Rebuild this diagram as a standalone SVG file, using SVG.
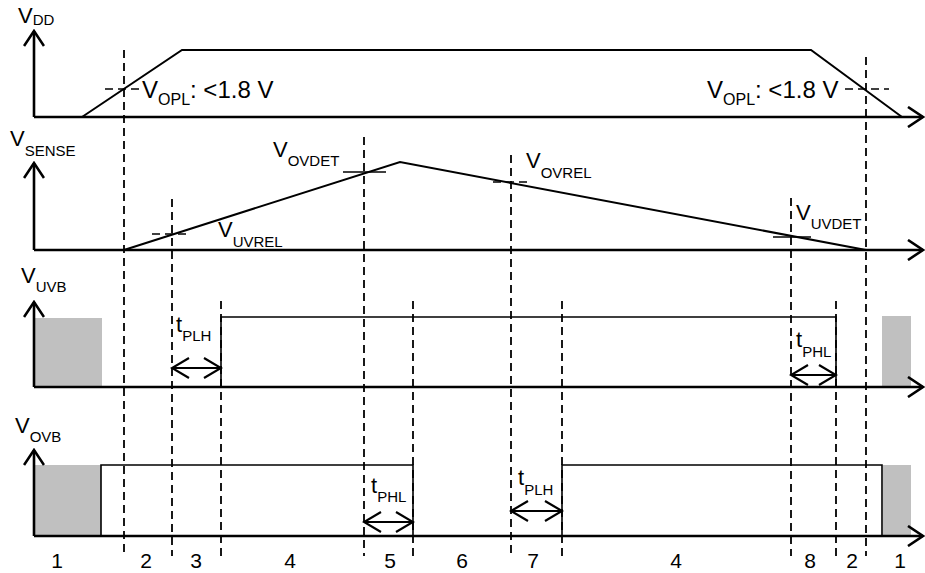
<svg xmlns="http://www.w3.org/2000/svg" width="925" height="573" viewBox="0 0 925 573">
<style>
text{font-family:"Liberation Sans",Arial,sans-serif;fill:#000}
.v{font-size:22px}
.s{font-size:15px}
.num{font-size:21px;text-anchor:middle}
.axis{fill:none;stroke:#000;stroke-width:2.6}
.wave{fill:none;stroke:#000;stroke-width:2}
.thin{fill:none;stroke:#000;stroke-width:1.6}
.dash{fill:none;stroke:#000;stroke-width:1.8;stroke-dasharray:8 5}
.tick{fill:none;stroke:#000;stroke-width:1.6}
.dtick{fill:none;stroke:#000;stroke-width:1.6;stroke-dasharray:8 5}
.gray{fill:#c0c0c0}
.dbl{fill:none;stroke:#000;stroke-width:2.2;marker-start:url(#dh);marker-end:url(#dh)}
</style>
<defs>
<marker id="ah" viewBox="0 0 18 22" refX="16" refY="11" markerWidth="18" markerHeight="22" markerUnits="userSpaceOnUse" orient="auto"><path d="M1,1 L16,11 L1,21" fill="none" stroke="#000" stroke-width="2.6"/></marker>
<marker id="dh" viewBox="0 0 20 22" refX="18" refY="11" markerWidth="20" markerHeight="22" markerUnits="userSpaceOnUse" orient="auto-start-reverse"><path d="M1,1 L18,11 L1,21" fill="none" stroke="#000" stroke-width="2.2"/></marker>
</defs>
<rect width="925" height="573" fill="#fff"/>

<g id="phases">
<line class="dash" x1="124" y1="50" x2="124" y2="554"/>
<line class="dash" x1="172" y1="199" x2="172" y2="556"/>
<line class="dash" x1="221" y1="301" x2="221" y2="558"/>
<line class="dash" x1="364" y1="137" x2="364" y2="556"/>
<line class="dash" x1="413" y1="301" x2="413" y2="556"/>
<line class="dash" x1="511" y1="155" x2="511" y2="558"/>
<line class="dash" x1="562" y1="301" x2="562" y2="556"/>
<line class="dash" x1="791" y1="198" x2="791" y2="556"/>
<line class="dash" x1="836" y1="301" x2="836" y2="558"/>
<line class="dash" x1="866" y1="57" x2="866" y2="556"/>
</g>

<g id="vdd">
<line class="axis" x1="34" y1="117" x2="34" y2="31" marker-end="url(#ah)"/>
<line class="axis" x1="34" y1="117" x2="923" y2="117" marker-end="url(#ah)"/>
<polyline class="wave" points="82,117 182,50 811,50 902,117"/>
<line class="dtick" x1="105" y1="89" x2="140" y2="89"/>
<line class="dtick" x1="845" y1="89" x2="889" y2="89"/>
<text class="v" x="18" y="23">V<tspan class="s" dy="2">DD</tspan></text>
<text x="142" y="98" font-size="24">V<tspan font-size="16" dy="7">OPL</tspan><tspan dy="-7">: &lt;1.8 V</tspan></text>
<text x="707" y="98" font-size="24">V<tspan font-size="16" dy="7">OPL</tspan><tspan dy="-7">: &lt;1.8 V</tspan></text>
</g>

<g id="vsense">
<line class="axis" x1="34" y1="250" x2="34" y2="163" marker-end="url(#ah)"/>
<line class="axis" x1="34" y1="250" x2="923" y2="250" marker-end="url(#ah)"/>
<polyline class="wave" points="124,250 400,162 866,250"/>
<line class="tick" x1="343" y1="172" x2="386" y2="172"/>
<line class="dtick" x1="152" y1="234" x2="188" y2="234"/>
<line class="dtick" x1="493" y1="182" x2="528" y2="182"/>
<line class="tick" x1="773" y1="237" x2="811" y2="237"/>
<text class="v" x="10" y="146">V<tspan class="s" dy="10">SENSE</tspan></text>
<text class="v" x="273" y="157">V<tspan class="s" dy="9">OVDET</tspan></text>
<text class="v" x="218" y="237">V<tspan class="s" dy="10">UVREL</tspan></text>
<text class="v" x="526" y="168">V<tspan class="s" dy="10">OVREL</tspan></text>
<text class="v" x="796" y="220">V<tspan class="s" dy="9">UVDET</tspan></text>
</g>

<g id="vuvb">
<rect class="gray" x="34" y="318" width="68" height="69"/>
<rect class="gray" x="882" y="316" width="29" height="71"/>
<line class="axis" x1="34" y1="387" x2="34" y2="302" marker-end="url(#ah)"/>
<line class="axis" x1="34" y1="387" x2="923" y2="387" marker-end="url(#ah)"/>
<polyline class="thin" points="221,387 221,317 836,317 836,387"/>
<line class="dbl" x1="172" y1="368" x2="221" y2="368"/>
<line class="dbl" x1="791" y1="375" x2="836" y2="375"/>
<text class="v" x="21" y="283">V<tspan class="s" dy="9">UVB</tspan></text>
<text class="v" x="176" y="332">t<tspan class="s" dy="9">PLH</tspan></text>
<text class="v" x="796" y="347">t<tspan class="s" dy="10">PHL</tspan></text>
</g>

<g id="vovb">
<rect class="gray" x="34" y="465" width="67" height="71"/>
<rect class="gray" x="883" y="465" width="28" height="71"/>
<line class="axis" x1="34" y1="536" x2="34" y2="450" marker-end="url(#ah)"/>
<line class="axis" x1="34" y1="536" x2="923" y2="536" marker-end="url(#ah)"/>
<polyline class="thin" points="101,536 101,465 413,465 413,536"/>
<polyline class="thin" points="562,536 562,465 882,465 882,536"/>
<line class="dbl" x1="364" y1="522" x2="413" y2="522"/>
<line class="dbl" x1="511" y1="511" x2="562" y2="511"/>
<text class="v" x="15" y="433">V<tspan class="s" dy="9">OVB</tspan></text>
<text class="v" x="371" y="493">t<tspan class="s" dy="9">PHL</tspan></text>
<text class="v" x="518" y="485">t<tspan class="s" dy="10">PLH</tspan></text>
</g>

<g id="labels">
<text class="num" x="57" y="568">1</text>
<text class="num" x="146" y="568">2</text>
<text class="num" x="196" y="568">3</text>
<text class="num" x="290" y="568">4</text>
<text class="num" x="390" y="568">5</text>
<text class="num" x="462" y="568">6</text>
<text class="num" x="533" y="568">7</text>
<text class="num" x="676" y="568">4</text>
<text class="num" x="810" y="568">8</text>
<text class="num" x="852" y="568">2</text>
<text class="num" x="900" y="568">1</text>
</g>
</svg>
